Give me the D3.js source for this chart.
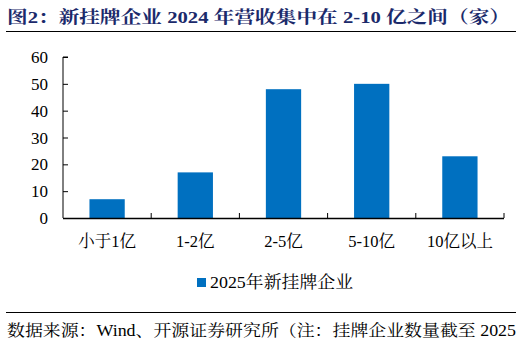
<!DOCTYPE html>
<html><head><meta charset="utf-8">
<script src="https://cdn.jsdelivr.net/npm/d3@7"></script>
<style>
body{margin:0;background:#fff;}
svg{display:block;}
</style></head>
<body>
<script>
const categories = ["小于1亿","1-2亿","2-5亿","5-10亿","10亿以上"];
const values = [7, 17, 48, 50, 23];
const yTicks = [0,10,20,30,40,50,60];
const seriesName = "2025年新挂牌企业";
const title = "图2：新挂牌企业 2024 年营收集中在 2-10 亿之间（家）";
const source = "数据来源：Wind、开源证券研究所（注：挂牌企业数量截至 2025";

const W = 522, H = 343;
const font = "'Liberation Serif','Noto Serif CJK SC','Noto Sans CJK SC',serif";
const svg = d3.select("body").append("svg").attr("width", W).attr("height", H);

svg.append("text").attr("x", 7).attr("y", 23)
  .attr("font-family", font).attr("font-weight", "bold").attr("font-size", 17.5)
  .attr("fill", "#1b2a6b").attr("textLength", 503).attr("lengthAdjust", "spacingAndGlyphs").text(title);
svg.append("line").attr("x1", 6).attr("x2", 516).attr("y1", 31.5).attr("y2", 31.5)
  .attr("stroke", "#000").attr("stroke-width", 1);

const x0 = 63, x1 = 504, yTop = 57, yBot = 218;
const x = d3.scaleBand().domain(categories).range([x0, x1]).paddingInner(0.6).paddingOuter(0.3);
const y = d3.scaleLinear().domain([0, 60]).range([yBot, yTop]);

svg.selectAll("rect.bar").data(values).enter().append("rect")
  .attr("class", "bar")
  .attr("x", (d, i) => x(categories[i]))
  .attr("width", x.bandwidth())
  .attr("y", d => y(d))
  .attr("height", d => yBot - y(d))
  .attr("fill", "#0070c0");

// y axis
const yAxis = d3.axisRight(y).tickValues(yTicks).tickSize(5).tickFormat("");
const gy = svg.append("g").attr("transform", `translate(${x0},0)`).call(yAxis);
gy.select(".domain").attr("d", `M5,${yTop}H0V${yBot}`).attr("stroke", "#000");
gy.selectAll(".tick line").attr("stroke", "#000");
svg.selectAll("text.ytl").data(yTicks).enter().append("text")
  .attr("class", "ytl").attr("x", 48).attr("y", d => y(d) + 6)
  .attr("text-anchor", "end").attr("font-family", font).attr("font-size", 17).attr("fill", "#000")
  .text(d => d);

// x axis
const step = (x1 - x0) / categories.length;
const boundaries = d3.range(categories.length + 1).map(i => x0 + i * step);
svg.append("line").attr("x1", x0).attr("x2", x1).attr("y1", yBot + 0.5).attr("y2", yBot + 0.5)
  .attr("stroke", "#000").attr("stroke-width", 1.3);
svg.selectAll("line.xt").data(boundaries.slice(1)).enter().append("line")
  .attr("class", "xt").attr("x1", d => d).attr("x2", d => d)
  .attr("y1", yBot).attr("y2", yBot - 5).attr("stroke", "#000");
svg.selectAll("text.xtl").data(categories).enter().append("text")
  .attr("class", "xtl").attr("x", d => x(d) + x.bandwidth() / 2).attr("y", 247)
  .attr("text-anchor", "middle").attr("font-family", font).attr("font-size", 16.5).attr("fill", "#000")
  .text(d => d);

// legend
svg.append("rect").attr("x", 197).attr("y", 278).attr("width", 9).attr("height", 9).attr("fill", "#0070c0");
svg.append("text").attr("x", 210).attr("y", 288).attr("font-family", font).attr("font-size", 16.5)
  .attr("fill", "#000").attr("textLength", 143).attr("lengthAdjust", "spacingAndGlyphs").text(seriesName);

// source
svg.append("line").attr("x1", 6).attr("x2", 516).attr("y1", 312.5).attr("y2", 312.5)
  .attr("stroke", "#000").attr("stroke-width", 1);
svg.append("text").attr("x", 7).attr("y", 336).attr("font-family", font).attr("font-size", 16)
  .attr("fill", "#000").attr("textLength", 509).attr("lengthAdjust", "spacingAndGlyphs").text(source);
</script>
</body></html>
